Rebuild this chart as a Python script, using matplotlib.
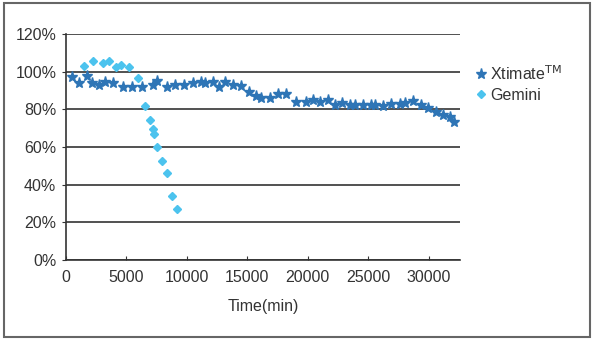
import numpy as np
import matplotlib.pyplot as plt
from matplotlib.patches import Rectangle

plt.rcParams['font.family'] = ['Liberation Sans', 'DejaVu Sans']

# Xtimate (stars) - time in min, value in %
xt_time = [470, 1100, 1710, 2120, 2750, 3220, 3910, 4690, 5430, 6260, 7170, 7550,
           8320, 9010, 9750, 10470, 11210, 11490, 12170, 12670, 13140, 13830, 14520,
           15150, 15760, 16170, 16860, 17550, 18240, 19070, 19890, 20440, 21000,
           21680, 22230, 22870, 23470, 23880, 24570, 25260, 25540, 26220, 26920,
           27600, 28020, 28700, 29400, 29940, 30640, 31180, 31740, 32150]
xt_val = [97, 94, 98, 94, 93, 94.5, 94, 92, 92, 92, 93, 95,
          92, 93, 93, 94, 94.5, 94, 94.5, 92, 94.5, 93, 92.6,
          89, 87.3, 86, 86, 88, 88, 84, 84, 85, 84,
          85, 82.5, 83.5, 82.5, 82.5, 82.5, 82.5, 82.5, 82, 83,
          83, 83.5, 84.5, 82.5, 81, 78.5, 77, 76, 73.5]

# Gemini (diamonds)
gm_time = [1490, 2210, 3080, 3580, 4130, 4520, 5230, 5980, 6530, 6940, 7170, 7300,
           7550, 7910, 8320, 8790, 9200]
gm_val = [103, 105.5, 104.5, 105.5, 102.5, 103.5, 102.5, 96.5, 82, 74.5, 69.5, 67,
          60, 52.5, 46, 34, 27]

xticks = [0, 5000, 10000, 15000, 20000, 25000, 30000]
yticks = [0, 20, 40, 60, 80, 100, 120]

fig = plt.figure(figsize=(5.95, 3.41), dpi=100)
ax = fig.add_axes([0.111, 0.2375, 0.662, 0.6625])

ax.plot(xt_time, xt_val, linestyle='none', marker='*', color='#2E75B6',
        markersize=8, label='Xtimate$^{\\rm TM}$')
ax.plot(gm_time, gm_val, linestyle='none', marker='D', color='#4CC3EE',
        markersize=4.5, label='Gemini')

ax.set_xlim(0, 32600)
ax.set_ylim(0, 120)
ax.set_xticks(xticks)
ax.set_yticks(yticks)
ax.set_yticklabels([f'{v}%' for v in yticks])
ax.tick_params(axis='both', labelsize=11.5, colors='#333333', length=3)
ax.tick_params(axis='y', direction='out', pad=4)
ax.tick_params(axis='x', direction='in', length=3, pad=7)

ax.grid(axis='y', color='#333333', linewidth=1.2)
ax.set_axisbelow(True)
for s in ['top', 'right']:
    ax.spines[s].set_visible(False)
ax.spines['left'].set_color('#333333')
ax.spines['bottom'].set_color('#333333')
ax.spines['left'].set_linewidth(1.2)
ax.spines['bottom'].set_linewidth(1.2)

ax.set_xlabel('Time(min)', fontsize=11.5, color='#333333', labelpad=10)

leg = ax.legend(loc='upper left', bbox_to_anchor=(1.0, 0.93), frameon=False,
                fontsize=11.5, handlelength=0.8, handletextpad=0.2,
                labelspacing=0.3)
for t in leg.get_texts():
    t.set_color('#333333')

# outer frame around the whole chart
fig.patches.append(Rectangle((0.006, 0.012), 0.986, 0.978, transform=fig.transFigure,
                             fill=False, edgecolor='#666666', linewidth=1.5))

fig.savefig('out.png', dpi=100)
